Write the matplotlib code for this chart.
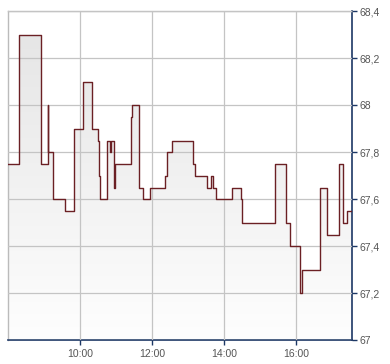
import matplotlib
matplotlib.use("Agg")
import matplotlib.pyplot as plt
import numpy as np
from matplotlib.colors import LinearSegmentedColormap

times = ["08:00", "08:18", "08:55", "09:06", "09:07", "09:15", "09:35", "09:50", "10:05", "10:20",
         "10:30", "10:32", "10:33", "10:45", "10:49", "10:52", "10:57", "10:58", "11:25", "11:26",
         "11:38", "11:44", "11:57", "12:22", "12:24", "12:33", "13:08", "13:12", "13:31", "13:38",
         "13:41", "13:46", "14:13", "14:27", "14:29", "15:24", "15:42", "15:50", "16:06", "16:10",
         "16:39", "16:51", "17:11", "17:17", "17:24", "17:33"]
prices = [67.75, 68.3, 67.75, 68.0, 67.8, 67.6, 67.55, 67.9, 68.1, 67.9,
          67.85, 67.7, 67.6, 67.85, 67.8, 67.85, 67.65, 67.75, 67.95, 68.0,
          67.65, 67.6, 67.65, 67.7, 67.8, 67.85, 67.75, 67.7, 67.65, 67.7,
          67.65, 67.6, 67.65, 67.6, 67.5, 67.75, 67.5, 67.4, 67.2, 67.3,
          67.65, 67.45, 67.75, 67.5, 67.55, 67.55]
y_ticks = [67.0, 67.2, 67.4, 67.6, 67.8, 68.0, 68.2, 68.4]
x_tick_labels = ["10:00", "12:00", "14:00", "16:00"]


def to_hours(s):
    h, m = s.split(":")
    return int(h) + int(m) / 60.0


x = np.array([to_hours(t) for t in times])
y = np.array(prices)
x_ticks = [to_hours(t) for t in x_tick_labels]

W, H = 390, 364
fig = plt.figure(figsize=(W / 100, H / 100), dpi=100)
left, right, top, bottom = 8, 352.3, 11.3, 340.3
ax = fig.add_axes([left / W, (H - bottom) / H, (right - left) / W, (bottom - top) / H])

xmin, xmax = x[0], x[-1]
ymin, ymax = 67.0, 68.4
ax.set_xlim(xmin, xmax)
ax.set_ylim(ymin, ymax)

# gradient fill under the step line
poly = ax.fill_between(x, y, ymin, step="post", facecolor="none", edgecolor="none", zorder=1)
cmap = LinearSegmentedColormap.from_list("g", ["#fefefe", "#e4e4e4"])
grad = np.linspace(0, 1, 256).reshape(-1, 1)
im = ax.imshow(grad, extent=[xmin, xmax, ymin, ymax], origin="lower", aspect="auto",
               cmap=cmap, zorder=1, interpolation="bilinear")
im.set_clip_path(poly.get_paths()[0], transform=ax.transData)

ax.plot(x, y, drawstyle="steps-post", color="#6b2024", lw=1.0, zorder=3)

# grid
ax.set_yticks(y_ticks)
ax.set_xticks(x_ticks)
ax.grid(True, color="#c4c4c4", lw=0.9, zorder=2)
ax.set_axisbelow(False)
for gl in ax.get_xgridlines() + ax.get_ygridlines():
    gl.set_zorder(2)

ax.set_xticklabels(x_tick_labels)
ax.set_yticklabels([f"{v:g}".replace(".", ",") for v in y_ticks])

ax.yaxis.tick_right()
navy = "#1c3765"
ax.tick_params(axis="y", which="both", right=True, left=False, direction="out", length=3.5,
               width=1.0, color=navy, pad=2, labelsize=7.5, labelcolor="#555555")
ax.tick_params(axis="x", which="both", bottom=True, direction="out", length=3.5,
               width=1.0, color=navy, pad=3, labelsize=7.5, labelcolor="#555555")
for lab in ax.get_xticklabels() + ax.get_yticklabels():
    lab.set_fontfamily("Liberation Sans")

for s in ["left", "top"]:
    ax.spines[s].set_color("#bbbbbb")
    ax.spines[s].set_linewidth(1.0)
for s in ["right", "bottom"]:
    ax.spines[s].set_color(navy)
    ax.spines[s].set_linewidth(1.2)

fig.savefig("out.png", dpi=100)
